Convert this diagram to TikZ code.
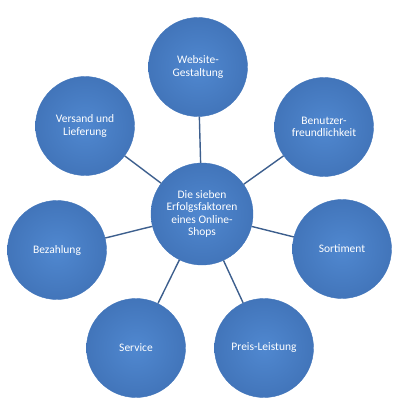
\documentclass[tikz,border=0pt]{standalone}
\usepackage{fontspec}
\setmainfont{Carlito}
\definecolor{kreisblau}{HTML}{5088D0}
\definecolor{kreisrand}{HTML}{4275BA}
\definecolor{linienblau}{HTML}{3D5F8E}

\begin{document}
\begin{tikzpicture}[x=1pt,y=-1pt,
  faktor/.style={circle, minimum size=99pt, inner sep=0pt, draw=kreisrand, thin,
    inner color=kreisblau, outer color=kreisrand, text=white, align=center,
    font=\fontsize{11.5}{12.5}\selectfont},
  verbindung/.style={draw=linienblau, line width=1.4pt}]
  \useasboundingbox (0,0) rectangle (401,417);

  \node[faktor, minimum size=102pt] (mitte) at (202,214) {Die sieben\\Erfolgsfaktoren\\eines Online-\\Shops};
  \node[faktor] (website)  at (198,67)  {Website-\\Gestaltung};
  \node[faktor] (benutzer) at (324,127) {Benutzer-\\freundlichkeit};
  \node[faktor] (sortiment) at (342,249) {Sortiment};
  \node[faktor] (preis)    at (264,348) {Preis-Leistung};
  \node[faktor] (service)  at (136,348) {Service};
  \node[faktor] (bezahlung) at (57,250) {Bezahlung};
  \node[faktor] (versand)  at (85,126)  {Versand und\\Lieferung};

  \foreach \ziel in {website,benutzer,sortiment,preis,service,bezahlung,versand}
    \draw[verbindung] (mitte) -- (\ziel);
\end{tikzpicture}
\end{document}
